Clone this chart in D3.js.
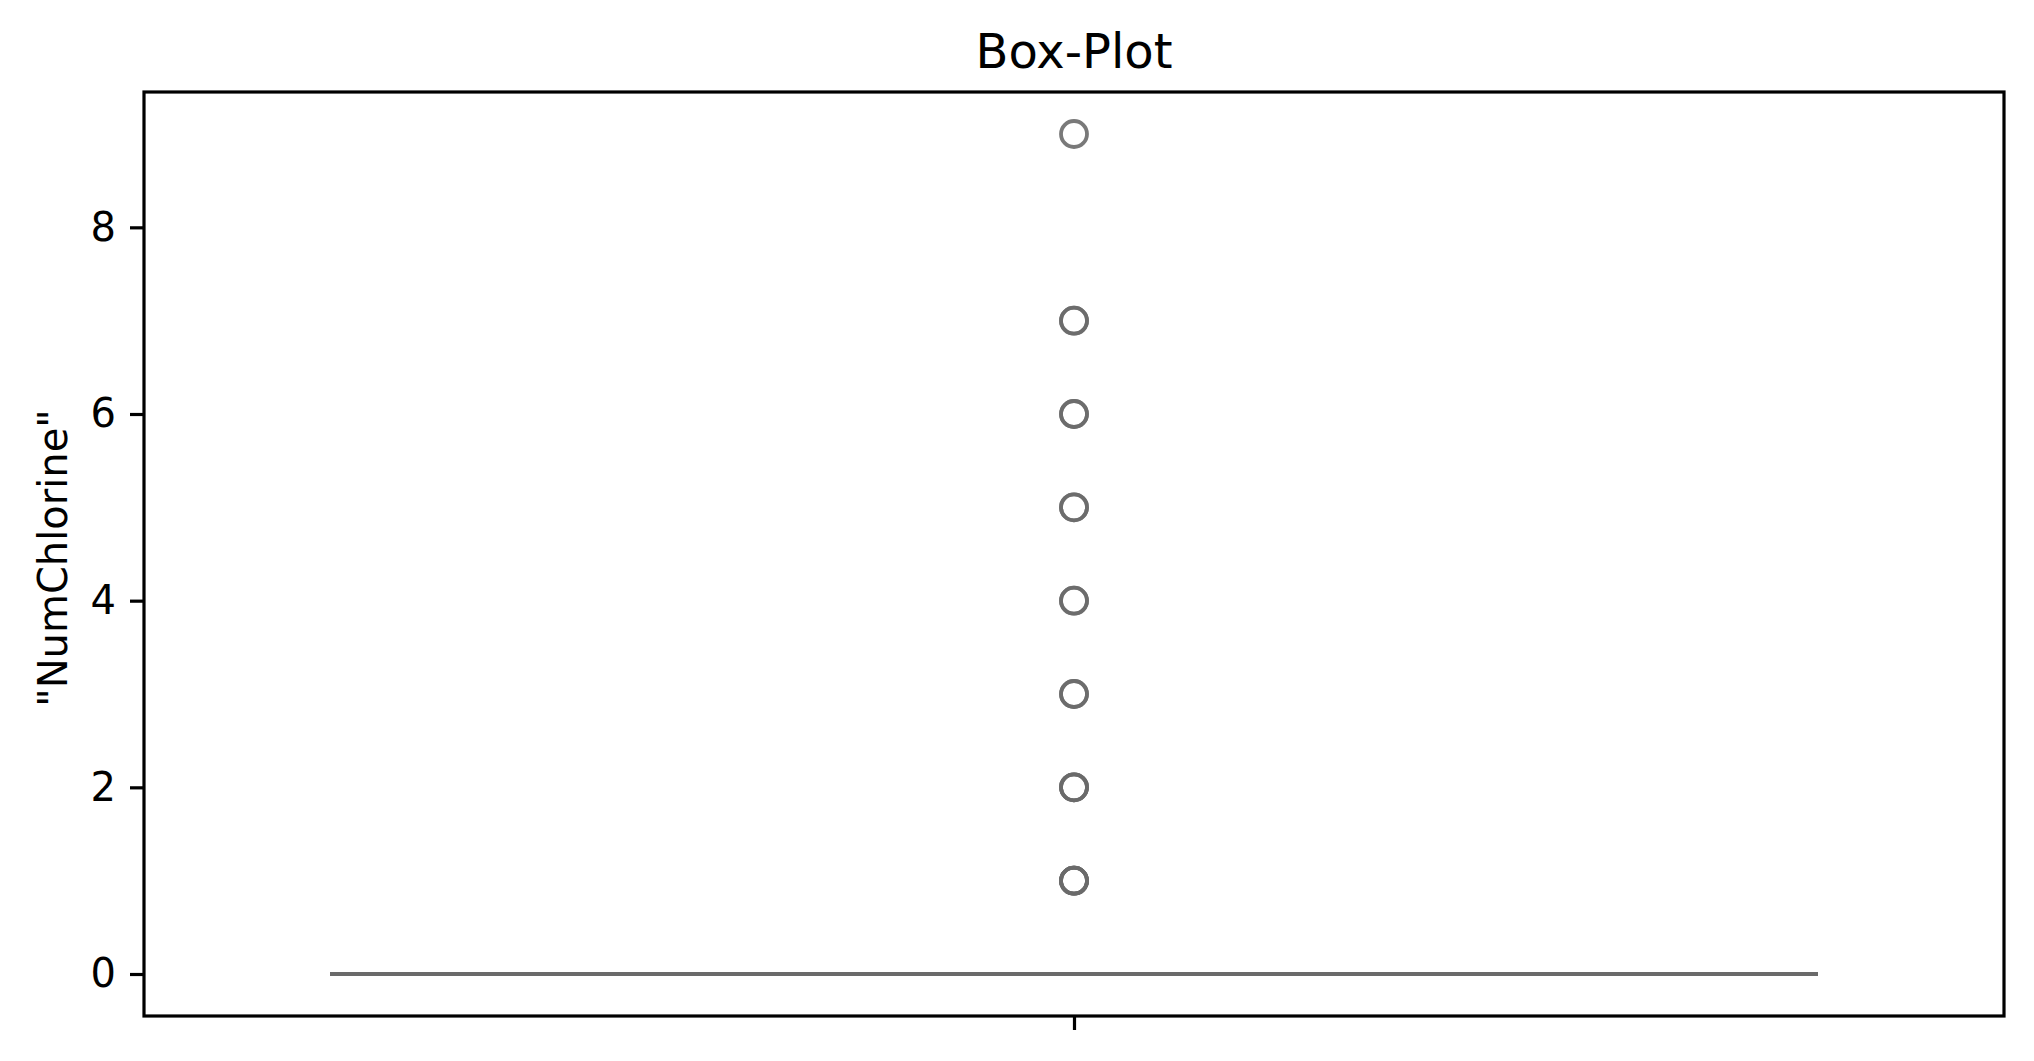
<!DOCTYPE html>
<html>
<head>
<meta charset="utf-8">
<script src="https://cdn.jsdelivr.net/npm/d3@7"></script>
<style>
  html, body { margin: 0; padding: 0; background: #fff; }
  svg { display: block; }
  text { font-family: "DejaVu Sans", sans-serif; fill: #000; }
</style>
</head>
<body>
<svg id="chart" width="2034" height="1061"></svg>
<script>
// ---- data ----
const title = "Box-Plot";
const yLabel = "\"NumChlorine\"";
const yTicks = [0, 2, 4, 6, 8];
const boxStats = { q1: 0, median: 0, q3: 0, whiskerLow: 0, whiskerHigh: 0 };
// outlier values (repeats overlap at the same spot)
const outliers = [1, 1, 1, 1, 2, 2, 2, 3, 3, 4, 4, 5, 5, 6, 6, 7, 7, 9];

// ---- layout ----
const W = 2034, H = 1061;
const plot = { left: 144, right: 2004, top: 92, bottom: 1016 };
const gray = "#6a6a6a";

const svg = d3.select("#chart");

const yMin = 0, yMax = 9, pad = (yMax - yMin) * 0.05;
const y = d3.scaleLinear().domain([yMin - pad, yMax + pad]).range([plot.bottom, plot.top]);
const x = d3.scaleLinear().domain([-0.5, 0.5]).range([plot.left, plot.right]);

const g = svg.append("g");

// box (flat, all quartiles zero)
const bw = 0.8;
g.append("rect")
  .attr("x", x(-bw / 2)).attr("width", x(bw / 2) - x(-bw / 2))
  .attr("y", y(boxStats.q3)).attr("height", Math.max(0, y(boxStats.q1) - y(boxStats.q3)))
  .attr("fill", "none").attr("stroke", gray).attr("stroke-width", 4);
// whiskers
g.append("line").attr("x1", x(0)).attr("x2", x(0))
  .attr("y1", y(boxStats.q1)).attr("y2", y(boxStats.whiskerLow))
  .attr("stroke", gray).attr("stroke-width", 4);
g.append("line").attr("x1", x(0)).attr("x2", x(0))
  .attr("y1", y(boxStats.q3)).attr("y2", y(boxStats.whiskerHigh))
  .attr("stroke", gray).attr("stroke-width", 4);
// caps
[boxStats.whiskerLow, boxStats.whiskerHigh].forEach(v => {
  g.append("line").attr("x1", x(-bw / 4)).attr("x2", x(bw / 4))
    .attr("y1", y(v)).attr("y2", y(v))
    .attr("stroke", gray).attr("stroke-width", 4);
});
// median
g.append("line").attr("x1", x(-bw / 2)).attr("x2", x(bw / 2))
  .attr("y1", y(boxStats.median)).attr("y2", y(boxStats.median))
  .attr("stroke", gray).attr("stroke-width", 4);

// outliers
g.selectAll("circle.flier").data(outliers).join("circle")
  .attr("class", "flier")
  .attr("cx", x(0)).attr("cy", d => y(d)).attr("r", 13)
  .attr("fill", "none").attr("stroke", gray).attr("stroke-width", 3.8)
  .attr("stroke-opacity", 0.9);

// y axis
const yAxis = d3.axisLeft(y).tickValues(yTicks).tickFormat(d3.format("d"))
  .tickSize(14).tickPadding(14);
const ya = svg.append("g").attr("transform", `translate(${plot.left},0)`).call(yAxis);
ya.select(".domain").remove();
ya.selectAll(".tick line").attr("stroke", "#000").attr("stroke-width", 3.2);
ya.selectAll(".tick text").attr("font-size", 40).attr("font-family", "DejaVu Sans").attr("fill", "#000");

// x axis: single tick at center, no label
const xAxis = d3.axisBottom(x).tickValues([0]).tickFormat(() => "").tickSize(14);
const xa = svg.append("g").attr("transform", `translate(0,${plot.bottom})`).call(xAxis);
xa.select(".domain").remove();
xa.selectAll(".tick line").attr("stroke", "#000").attr("stroke-width", 3.2);

// frame
svg.append("rect")
  .attr("x", plot.left).attr("y", plot.top)
  .attr("width", plot.right - plot.left).attr("height", plot.bottom - plot.top)
  .attr("fill", "none").attr("stroke", "#000").attr("stroke-width", 3.2);

// title
svg.append("text").attr("x", (plot.left + plot.right) / 2).attr("y", 68)
  .attr("text-anchor", "middle").attr("font-size", 48).text(title);

// y label
svg.append("text")
  .attr("transform", `translate(67,558) rotate(-90)`)
  .attr("text-anchor", "middle").attr("font-size", 40).text(yLabel);
</script>
</body>
</html>
